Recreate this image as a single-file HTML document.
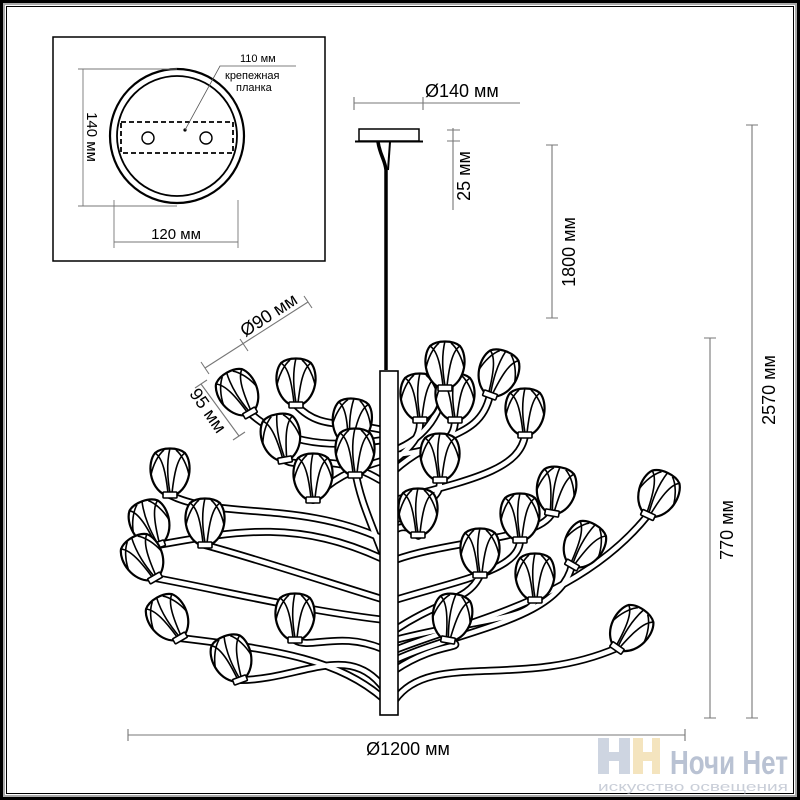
<!DOCTYPE html>
<html><head><meta charset="utf-8"><style>
html,body{margin:0;padding:0;background:#fff}
svg{display:block}
text{font-family:"Liberation Sans",sans-serif}
</style></head><body>
<svg width="800" height="800" viewBox="0 0 800 800" xmlns="http://www.w3.org/2000/svg">
<defs>
<g id="fl">
 <path d="M-5,0 C-21,-8 -23,-32 -15,-42 C-8,-48 8,-48 15,-42 C23,-32 21,-8 5,0 Z" fill="#fff" stroke="#000" stroke-width="2.2"/>
 <path d="M-15,-42 C-7,-37 -4,-20 -2,-2 M15,-42 C7,-37 4,-20 2,-2 M0,-47 C-4,-30 -2,-14 0,-2 M-19,-20 C-17,-30 -12,-40 -6,-45 M19,-20 C17,-30 12,-40 6,-45" fill="none" stroke="#000" stroke-width="1.6"/>
 <rect x="-7" y="-3" width="14" height="6" rx="1" fill="#fff" stroke="#000" stroke-width="1.6"/>
</g>
<g id="br">
 <path d="M385,690 C350,640 300,680 240,680"/>
 <path d="M385,700 C340,660 280,650 180,638"/>
 <path d="M385,600 C320,580 260,560 205,545"/>
 <path d="M385,620 C300,610 220,590 155,578"/>
 <path d="M385,560 C300,520 240,530 158,545"/>
 <path d="M385,540 C300,500 220,520 170,495"/>
 <path d="M385,650 C340,630 310,650 295,640"/>
 <path d="M385,460 C350,470 330,480 313,500"/>
 <path d="M380,480 C330,450 300,470 285,460"/>
 <path d="M383,430 C340,420 320,430 296,405"/>
 <path d="M383,440 C320,450 280,440 250,413"/>
 <path d="M385,560 C370,520 360,500 355,470"/>
 <path d="M395,700 C430,650 520,690 617,648"/>
 <path d="M395,670 C440,640 470,650 448,640"/>
 <path d="M395,660 C460,630 560,620 572,565"/>
 <path d="M395,650 C470,620 580,600 648,515"/>
 <path d="M395,630 C440,600 470,600 480,575"/>
 <path d="M395,640 C470,620 530,620 535,600"/>
 <path d="M395,600 C460,580 520,570 520,540"/>
 <path d="M395,560 C450,540 540,540 552,513"/>
 <path d="M395,530 C410,520 420,540 418,535"/>
 <path d="M395,520 C440,500 440,490 440,480"/>
 <path d="M395,500 C470,480 520,470 525,435"/>
 <path d="M395,470 C440,430 480,440 490,395"/>
 <path d="M395,450 C420,440 440,420 445,385"/>
 <path d="M395,460 C420,440 420,430 420,420"/>
 <path d="M395,455 C440,450 455,440 455,420"/>
</g>
</defs>
<rect width="800" height="800" fill="#fff"/>
<rect x="1.5" y="1.5" width="797" height="797" fill="none" stroke="#000" stroke-width="3"/>
<rect x="4" y="4" width="792" height="792" fill="none" stroke="#aaa" stroke-width="2"/>
<rect x="6.5" y="6.5" width="787" height="787" fill="none" stroke="#000" stroke-width="1"/>

<!-- inset -->
<rect x="53" y="37" width="272" height="224" fill="#fff" stroke="#000" stroke-width="1.5"/>
<circle cx="177" cy="136" r="67" fill="none" stroke="#000" stroke-width="2.2"/>
<circle cx="177" cy="136" r="60" fill="none" stroke="#000" stroke-width="1.8"/>
<rect x="121" y="122" width="112" height="31" fill="none" stroke="#000" stroke-width="1.8" stroke-dasharray="5,3"/>
<circle cx="148" cy="138" r="6" fill="none" stroke="#000" stroke-width="1.4"/>
<circle cx="206" cy="138" r="6" fill="none" stroke="#000" stroke-width="1.4"/>
<circle cx="185" cy="130" r="1.6" fill="#000"/>
<path d="M185,130 L220,66 L296,66" fill="none" stroke="#555" stroke-width="0.8"/>
<text x="240" y="62" font-size="11">110 мм</text>
<text x="225" y="79" font-size="11">крепежная</text>
<text x="236" y="91" font-size="11">планка</text>
<g stroke="#777" stroke-width="0.9" fill="none">
 <path d="M83,69 V206 M78,69 H177 M78,206 H177"/>
 <path d="M114,200 V248 M238,200 V248 M114,242 H238"/>
</g>
<text transform="translate(87,137) rotate(90)" font-size="15" text-anchor="middle">140 мм</text>
<text x="176" y="239" font-size="15" text-anchor="middle">120 мм</text>

<!-- dims -->
<g stroke="#777" stroke-width="1.1" fill="none">
 <path d="M354,103 H520 M354,97 V110 M423,97 V110"/>
 <path d="M453,128 V210 M447,130 H460 M447,141 H460"/>
 <path d="M552,145 V318 M546,145 H558 M546,318 H558"/>
 <path d="M710,338 V718 M704,338 H716 M704,718 H716"/>
 <path d="M752,125 V718 M746,125 H758 M746,718 H758"/>
 <path d="M128,735 H685 M128,729 V741 M685,729 V741"/>
 <path d="M205,368 L308,302 M201,362 L209,374 M240,339 L248,351 M304,296 L312,308"/>
 <path d="M201,384 L239,436 M195,388 L207,380 M233,440 L245,432"/>
</g>
<text x="425" y="97" font-size="18">Ø140 мм</text>
<text transform="translate(470,176) rotate(-90)" font-size="18" text-anchor="middle">25 мм</text>
<text transform="translate(575,252) rotate(-90)" font-size="18" text-anchor="middle">1800 мм</text>
<text transform="translate(733,530) rotate(-90)" font-size="18" text-anchor="middle">770 мм</text>
<text transform="translate(775,390) rotate(-90)" font-size="18" text-anchor="middle">2570 мм</text>
<text x="408" y="755" font-size="18" text-anchor="middle">Ø1200 мм</text>
<text transform="translate(272,320) rotate(-33)" font-size="18" text-anchor="middle">Ø90 мм</text>
<text transform="translate(203,414) rotate(55)" font-size="18" text-anchor="middle">95 мм</text>

<!-- canopy & cord -->
<rect x="359" y="129" width="60" height="12" fill="#fff" stroke="#000" stroke-width="1.5"/>
<path d="M355,141.5 H423" stroke="#000" stroke-width="2"/>
<path d="M378,142 C380,155 385,160 386,170 L386,370" stroke="#000" stroke-width="3.5" fill="none"/>
<path d="M390,142 L388,170" stroke="#000" stroke-width="2" fill="none"/>

<!-- branches -->
<g fill="none" stroke-linecap="round">
 <use href="#br" stroke="#000" stroke-width="8"/>
 <use href="#br" stroke="#fff" stroke-width="4.5"/>
</g>

<!-- rod -->
<rect x="380" y="371" width="18" height="344" fill="#fff" stroke="#000" stroke-width="1.6"/>

<!-- flowers -->
<use href="#fl" transform="translate(250,413) rotate(-30)"/>
<use href="#fl" transform="translate(296,405)"/>
<use href="#fl" transform="translate(285,460) rotate(-10)"/>
<use href="#fl" transform="translate(350,445) rotate(5)"/>
<use href="#fl" transform="translate(355,475)"/>
<use href="#fl" transform="translate(313,500)"/>
<use href="#fl" transform="translate(170,495)"/>
<use href="#fl" transform="translate(158,545) rotate(-20)"/>
<use href="#fl" transform="translate(205,545)"/>
<use href="#fl" transform="translate(155,578) rotate(-30)"/>
<use href="#fl" transform="translate(180,638) rotate(-30)"/>
<use href="#fl" transform="translate(295,640)"/>
<use href="#fl" transform="translate(240,680) rotate(-20)"/>
<use href="#fl" transform="translate(420,420)"/>
<use href="#fl" transform="translate(455,420)"/>
<use href="#fl" transform="translate(445,388)"/>
<use href="#fl" transform="translate(490,395) rotate(20)"/>
<use href="#fl" transform="translate(525,435)"/>
<use href="#fl" transform="translate(440,480)"/>
<use href="#fl" transform="translate(418,535)"/>
<use href="#fl" transform="translate(552,513) rotate(10)"/>
<use href="#fl" transform="translate(648,515) rotate(25)"/>
<use href="#fl" transform="translate(520,540)"/>
<use href="#fl" transform="translate(480,575)"/>
<use href="#fl" transform="translate(572,565) rotate(30)"/>
<use href="#fl" transform="translate(535,600)"/>
<use href="#fl" transform="translate(448,640) rotate(10)"/>
<use href="#fl" transform="translate(617,648) rotate(35)"/>

<!-- logo -->
<g opacity="0.9">
 <rect x="598" y="738" width="11" height="36" fill="#c9d1de"/>
 <rect x="598" y="752" width="30" height="9" fill="#c9d1de"/>
 <rect x="619" y="738" width="11" height="36" fill="#c9d1de"/>
 <rect x="633" y="738" width="10" height="36" fill="#f3e2b8"/>
 <rect x="633" y="752" width="24" height="9" fill="#f3e2b8"/>
 <rect x="652" y="738" width="8" height="36" fill="#f3e2b8"/>
</g>
<text x="670" y="774" font-size="33" font-weight="bold" fill="#b9c2d3" textLength="118" lengthAdjust="spacingAndGlyphs">Ночи Нет</text>
<text x="598" y="791" font-size="13" fill="#c9ced8" textLength="190" lengthAdjust="spacingAndGlyphs">искусство освещения</text>
</svg>
</body></html>
